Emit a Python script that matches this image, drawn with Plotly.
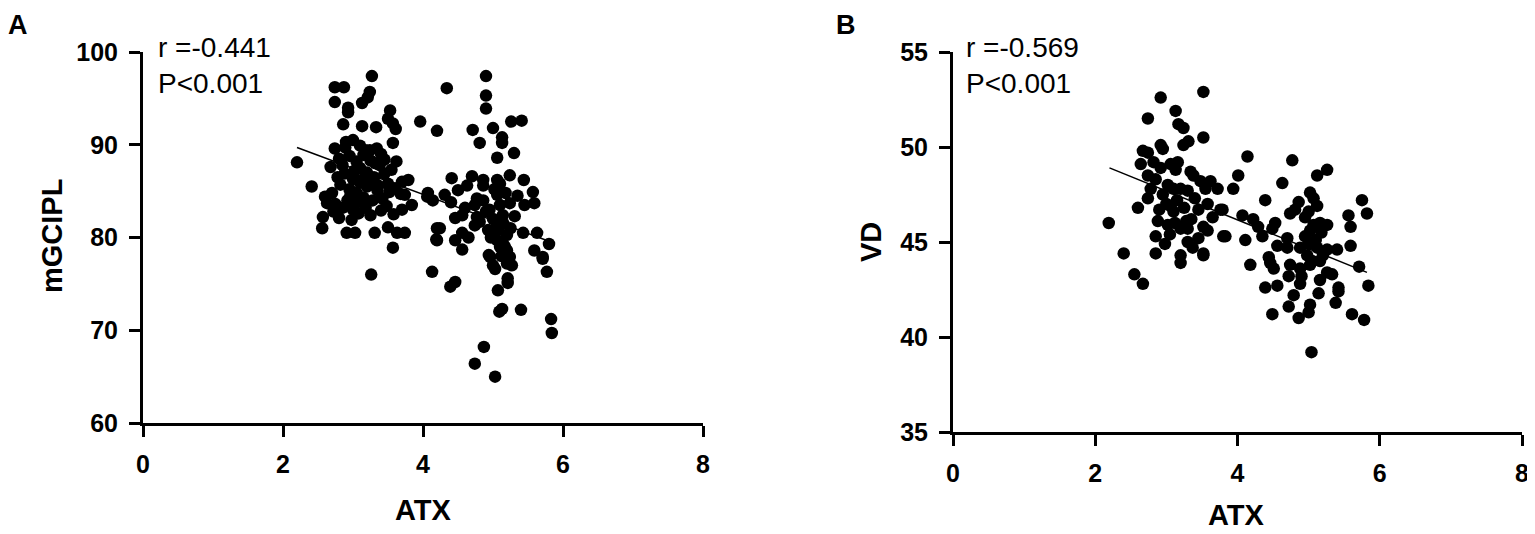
import plotly.graph_objects as go

# The page body adds an 8 px margin, so the figure is drawn 8 px in from the window corner.
OFF = 8
W, H = 1535 - OFF, 534 - OFF

# ---------------- Data ----------------
atx_a = [3.27, 2.74, 2.87, 3.24, 3.21, 2.74, 2.93, 2.93, 3.13, 3.53, 3.50, 3.57, 3.61, 3.96, 4.20, 2.86, 3.13, 3.33,
         2.74, 2.89, 3.00, 3.24, 3.34, 3.57, 2.20, 2.41, 3.79, 4.06, 4.14, 2.60, 2.63, 2.57, 2.56, 2.91, 3.03, 3.31,
         3.50, 3.63, 3.74, 3.57, 4.20, 4.20, 3.26, 4.13,
         4.90, 4.34, 4.90, 4.90, 5.26, 5.41, 4.71, 5.00, 4.81, 5.13, 5.13, 5.06, 5.30, 4.41, 4.70, 4.86, 4.86, 5.06,
         5.10, 5.24, 5.44, 5.57, 5.59, 3.74, 3.84, 4.07, 4.31, 4.50, 4.63, 4.77, 4.74, 4.86, 5.06, 5.10, 5.24, 4.46,
         4.56, 4.77, 4.74, 4.81, 5.14, 5.31, 4.24, 4.46, 4.56, 4.56, 4.93, 5.07, 5.06, 5.10, 5.17, 5.43, 5.63, 5.80,
         5.59, 5.71, 4.94, 4.19, 4.39, 4.46, 4.96, 5.03, 5.00, 5.21, 5.21, 5.27, 5.07, 5.09, 5.13, 5.40, 5.77, 5.71,
         5.83, 5.84, 4.87, 4.74, 5.03, 5.14, 5.20, 5.24, 5.20,
         2.80, 2.85, 2.95, 3.05, 3.10, 3.15, 3.20, 3.25, 3.30, 3.38, 3.45, 3.50, 3.55, 3.60, 3.68, 2.78, 2.82, 2.88,
         2.95, 3.00, 3.05, 3.10, 3.15, 3.20, 3.28, 3.35, 3.42, 3.48, 2.70, 2.75, 2.85, 2.92, 3.00, 3.08, 3.18, 3.25,
         3.40, 2.72, 2.80, 2.98, 3.58, 3.70, 3.62, 3.70, 3.40, 2.68, 2.90, 3.10,
         4.95, 5.00, 5.05, 5.15, 5.20, 4.90, 5.02, 5.18, 4.97, 5.25, 5.12, 4.60, 4.40, 5.45, 5.35, 4.65,
         3.02, 3.12, 3.22, 3.32, 2.96, 3.06, 3.18, 3.45, 3.36, 3.52]
mgcipl = [97.4, 96.2, 96.2, 95.7, 95.1, 94.6, 94.0, 93.5, 94.5, 93.7, 92.8, 92.3, 91.7, 92.5, 91.5, 92.2, 92.0, 91.9,
          89.6, 89.7, 90.5, 89.4, 89.6, 90.2, 88.1, 85.5, 86.2, 84.4, 84.0, 84.4, 83.7, 82.2, 81.0, 80.5, 80.5, 80.5,
          81.1, 80.5, 80.5, 78.9, 81.0, 79.7, 76.0, 76.3,
          97.4, 96.1, 95.3, 93.9, 92.5, 92.6, 91.6, 91.8, 90.2, 90.8, 90.2, 88.6, 89.1, 86.4, 86.6, 86.2, 85.6, 86.2,
          85.8, 86.7, 86.2, 84.9, 83.7, 84.6, 83.5, 84.8, 84.6, 85.1, 85.6, 84.2, 83.5, 84.0, 84.6, 83.5, 83.7, 82.1,
          82.4, 82.2, 81.3, 81.7, 82.4, 82.3, 81.0, 79.7, 80.5, 78.7, 80.8, 80.8, 79.7, 79.0, 79.0, 80.5, 80.5, 79.3,
          78.6, 77.9, 78.1, 79.8, 74.7, 75.2, 77.9, 76.6, 77.0, 75.6, 75.1, 77.0, 74.3, 72.0, 72.3, 72.2, 76.3, 77.7,
          71.2, 69.7, 68.2, 66.4, 65.0, 79.4, 78.6, 77.9, 77.2,
          88.5, 87.8, 88.8, 88.2, 87.5, 88.9, 87.0, 88.3, 86.5, 87.8, 86.9, 85.8, 87.3, 85.3, 84.7, 86.5, 85.7, 86.9,
          85.2, 86.3, 84.8, 85.9, 84.3, 85.5, 84.0, 85.1, 84.2, 83.4, 84.8, 83.6, 83.2, 84.0, 83.0, 82.6, 83.2, 82.4,
          82.9, 82.8, 82.1, 81.9, 82.5, 83.0, 88.2, 86.0, 89.0, 87.6, 90.3, 89.9,
          83.0, 82.0, 81.2, 81.5, 80.3, 82.8, 85.2, 84.8, 80.0, 81.0, 78.0, 83.2, 83.8, 83.5, 84.5, 80.0,
          87.2, 86.2, 86.0, 88.0, 84.5, 83.8, 89.4, 88.4, 85.6, 84.9]

atx_b = [3.52, 2.92, 2.74, 3.13, 3.17, 3.24, 3.52, 3.31, 3.24, 2.92, 2.95, 2.67, 2.74, 2.64, 2.82, 2.92, 3.06, 3.16,
         3.13, 2.74, 3.34, 3.38, 2.19, 2.40, 2.55, 2.67, 2.60, 2.74, 2.85, 2.88, 2.85, 3.02, 3.06, 3.10, 3.20, 3.30,
         3.20, 3.20, 3.30, 3.37, 3.52, 3.52, 3.58, 3.02, 3.10, 3.20, 3.30, 3.48, 3.62, 3.72, 3.45, 3.58, 3.79, 3.83,
         3.94, 4.01,
         4.14, 4.77, 5.12, 5.26, 4.63, 4.39, 5.02, 5.07, 5.12, 4.86, 4.74, 4.81, 5.75, 5.82, 5.56, 5.59, 3.76, 4.07,
         4.22, 4.29, 4.35, 4.53, 4.49, 3.80, 4.11, 3.52, 4.18, 4.56, 4.70, 4.70, 4.44, 4.46, 4.51, 4.95, 5.02, 5.07,
         5.16, 5.26, 4.88, 4.98, 5.12, 5.26, 5.40, 5.59, 4.74, 4.88, 5.02, 5.16, 5.26, 5.33, 4.72, 4.88, 5.16, 5.71,
         5.84, 4.39, 4.56, 4.79, 4.72, 5.14, 5.02, 5.42, 5.42, 5.38, 4.49, 4.86, 5.00, 5.61, 5.78, 5.04,
         2.85, 2.95, 3.00, 3.15, 3.25, 3.35, 2.78, 2.90, 3.05, 3.40, 3.55, 3.65, 3.12, 2.98, 3.28, 3.45,
         5.00, 5.05, 5.10, 5.20, 4.95, 5.00, 5.18, 4.90]
vd = [52.9, 52.6, 51.5, 51.9, 51.2, 51.0, 50.5, 50.3, 50.1, 50.1, 49.9, 49.8, 49.7, 49.1, 49.2, 48.9, 49.1, 49.2,
      48.8, 48.5, 48.7, 48.5, 46.0, 44.4, 43.3, 42.8, 46.8, 47.3, 45.3, 46.1, 44.4, 45.9, 46.9, 46.6, 45.7, 45.7,
      44.3, 43.9, 45.0, 44.7, 44.4, 45.8, 45.6, 48.0, 47.8, 47.8, 47.7, 48.2, 48.2, 47.8, 46.7, 47.0, 46.7, 45.3,
      47.8, 48.5,
      49.5, 49.3, 48.5, 48.8, 48.1, 47.2, 47.6, 47.3, 46.9, 47.1, 46.5, 46.7, 47.2, 46.5, 46.4, 45.8, 46.7, 46.4,
      46.2, 45.8, 45.3, 46.0, 45.7, 45.3, 45.1, 44.3, 43.8, 44.8, 45.2, 44.7, 44.2, 43.9, 43.6, 45.3, 45.6, 45.9,
      46.0, 45.9, 44.7, 44.3, 44.7, 44.6, 44.6, 44.8, 43.8, 43.6, 43.8, 44.0, 43.4, 43.3, 43.2, 42.8, 43.0, 43.7,
      42.7, 42.6, 42.7, 42.2, 41.6, 42.3, 41.7, 42.6, 42.4, 41.8, 41.2, 41.0, 41.3, 41.2, 40.9, 39.2,
      48.3, 47.5, 47.0, 47.2, 46.8, 46.2, 47.8, 46.7, 45.4, 47.3, 47.8, 46.3, 46.0, 44.9, 46.1, 45.2,
      44.9, 44.0, 45.1, 44.3, 46.3, 46.6, 45.5, 43.2]

fit_x_a = [2.2, 5.8]
fit_y_a = [89.7, 79.6]
fit_x_b = [2.2, 5.82]
fit_y_b = [48.9, 43.4]

x_ticks = [0, 2, 4, 6, 8]
y_ticks_a = [60, 70, 80, 90, 100]
y_ticks_b = [35, 40, 45, 50, 55]

stat_a = "r =-0.441<br>P&lt;0.001"
stat_b = "r =-0.569<br>P&lt;0.001"

# ---------------- Figure ----------------
FONT = "Liberation Sans, Arial, sans-serif"


def px(x):
    """reference pixel x -> paper fraction"""
    return (x - OFF) / W


def py(y):
    """reference pixel y -> paper fraction"""
    return 1 - (y - OFF) / H


fig = go.Figure()
marker = dict(color="black", size=12.5, line=dict(width=0))
fig.add_trace(go.Scatter(x=atx_a, y=mgcipl, mode="markers", marker=marker, xaxis="x", yaxis="y",
                         showlegend=False, cliponaxis=False))
fig.add_trace(go.Scatter(x=fit_x_a, y=fit_y_a, mode="lines", line=dict(color="black", width=1.5),
                         xaxis="x", yaxis="y", showlegend=False))
fig.add_trace(go.Scatter(x=atx_b, y=vd, mode="markers", marker=marker, xaxis="x2", yaxis="y2",
                         showlegend=False, cliponaxis=False))
fig.add_trace(go.Scatter(x=fit_x_b, y=fit_y_b, mode="lines", line=dict(color="black", width=1.5),
                         xaxis="x2", yaxis="y2", showlegend=False))

axis_common = dict(showline=True, linecolor="black", linewidth=3, ticks="outside", ticklen=11,
                   tickwidth=3, tickcolor="black", showgrid=False, zeroline=False, automargin=False,
                   ticklabelstandoff=6,
                   tickfont=dict(family=FONT, size=25, color="black", weight="bold"))

fig.update_layout(
    width=W, height=H, margin=dict(l=0, r=0, t=0, b=0),
    paper_bgcolor="white", plot_bgcolor="white",
    xaxis=dict(domain=[px(143), px(703)], range=[0, 8], tickvals=x_ticks, anchor="y", **axis_common),
    yaxis=dict(domain=[py(423), py(52)], range=[60, 100], tickvals=y_ticks_a, anchor="x", **axis_common),
    xaxis2=dict(domain=[px(953), px(1522)], range=[0, 8], tickvals=x_ticks, anchor="y2", **axis_common),
    yaxis2=dict(domain=[py(432), py(52)], range=[35, 55], tickvals=y_ticks_b, anchor="x2", **axis_common),
)

ann = []
title_font = dict(family=FONT, size=29, color="black", weight="bold")
ann.append(dict(text="ATX", x=px(423), y=py(510), xref="paper", yref="paper", showarrow=False,
                font=title_font, xanchor="center", yanchor="middle"))
ann.append(dict(text="ATX", x=px(1236), y=py(515), xref="paper", yref="paper", showarrow=False,
                font=title_font, xanchor="center", yanchor="middle"))
ann.append(dict(text="mGCIPL", x=px(52), y=py(236), xref="paper", yref="paper", showarrow=False,
                font=title_font, xanchor="center", yanchor="middle", textangle=-90))
ann.append(dict(text="VD", x=px(871), y=py(242), xref="paper", yref="paper", showarrow=False,
                font=title_font, xanchor="center", yanchor="middle", textangle=-90))
stat_font = dict(family=FONT, size=28, color="black")
ann.append(dict(text=stat_a, x=px(156), y=py(30), xref="paper", yref="paper", showarrow=False,
                font=stat_font, xanchor="left", yanchor="top", align="left"))
ann.append(dict(text=stat_b, x=px(964), y=py(30), xref="paper", yref="paper", showarrow=False,
                font=stat_font, xanchor="left", yanchor="top", align="left"))
letter_font = dict(family=FONT, size=27, color="black", weight="bold")
ann.append(dict(text="A", x=px(6), y=py(8), xref="paper", yref="paper", showarrow=False,
                font=letter_font, xanchor="left", yanchor="top"))
ann.append(dict(text="B", x=px(834), y=py(8), xref="paper", yref="paper", showarrow=False,
                font=letter_font, xanchor="left", yanchor="top"))
fig.update_layout(annotations=ann)

fig.write_html("out.html")
